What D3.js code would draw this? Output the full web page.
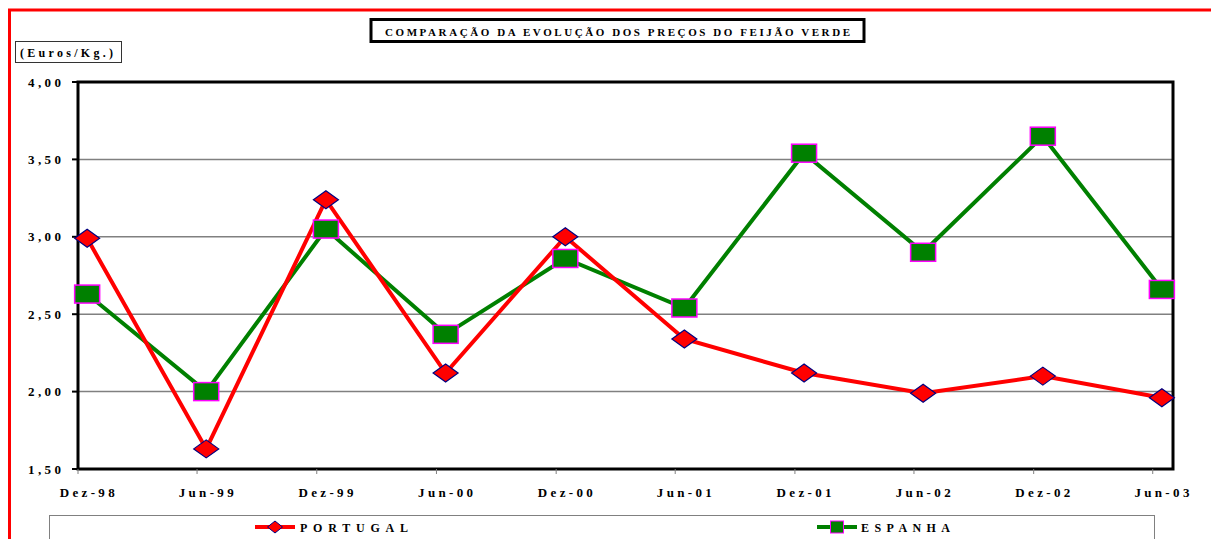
<!DOCTYPE html>
<html>
<head>
<meta charset="utf-8">
<title>Feijão verde</title>
<script src="https://d3js.org/d3.v7.min.js"></script>
<style>
  body { margin: 0; background: #fff; }
  svg { display: block; }
  text { font-family: "Liberation Serif", "Times New Roman", serif; font-weight: bold; fill: #000; }
</style>
</head>
<body>
<script>
// data
const periods = ["1998-12-15", "1999-06-15", "1999-12-15", "2000-06-15", "2000-12-15",
                 "2001-06-15", "2001-12-15", "2002-06-15", "2002-12-15", "2003-06-15"];
const periodLabels = ["Dez-98", "Jun-99", "Dez-99", "Jun-00", "Dez-00",
                      "Jun-01", "Dez-01", "Jun-02", "Dez-02", "Jun-03"];
const portugal = [2.99, 1.63, 3.24, 2.12, 3.00, 2.34, 2.12, 1.99, 2.10, 1.96];
const espanha  = [2.63, 2.00, 3.05, 2.37, 2.86, 2.54, 3.54, 2.90, 3.65, 2.66];
const yTicks = [1.5, 2.0, 2.5, 3.0, 3.5, 4.0];

const W = 1211, H = 539;
const parse = d3.timeParse("%Y-%m-%d");
const dates = periods.map(parse);

const svg = d3.select("body").append("svg").attr("width", W).attr("height", H);

// red outer frame (runs off right and bottom)
svg.append("rect").attr("x", 9.5).attr("y", 10).attr("width", W + 20).attr("height", H + 20)
  .attr("fill", "none").attr("stroke", "#ff0000").attr("stroke-width", 3);

const plot = { left: 78, top: 82, right: 1173, bottom: 469 };

const x = d3.scaleTime()
  .domain([parse("1998-12-01"), parse("2003-07-02")])
  .range([plot.left, plot.right]);
const y = d3.scaleLinear().domain([1.5, 4]).range([plot.bottom, plot.top]);

// helper: spaced text fitted to a width
function spaced(g, str, len) {
  return g.text(str).attr("textLength", len).attr("lengthAdjust", "spacing");
}

// gridlines
svg.append("g").selectAll("line").data(yTicks.filter(d => d > 1.5 && d < 4)).join("line")
  .attr("x1", plot.left).attr("x2", plot.right)
  .attr("y1", d => y(d)).attr("y2", d => y(d))
  .attr("stroke", "#808080").attr("stroke-width", 1.5);

// plot border
svg.append("rect").attr("x", plot.left).attr("y", plot.top)
  .attr("width", plot.right - plot.left).attr("height", plot.bottom - plot.top)
  .attr("fill", "none").attr("stroke", "#000").attr("stroke-width", 3);

// y axis ticks + labels
const fmt = d => d3.format(".2f")(d).replace(".", ",");
const yg = svg.append("g");
yg.selectAll("line").data(yTicks).join("line")
  .attr("x1", plot.left - 6).attr("x2", plot.left)
  .attr("y1", d => y(d)).attr("y2", d => y(d))
  .attr("stroke", "#000").attr("stroke-width", 2);
yg.selectAll("text").data(yTicks).join("text")
  .attr("x", 61).attr("y", d => y(d) + 4.5)
  .attr("text-anchor", "end").attr("font-size", 13)
  .call(t => spaced(t, fmt, 33));

// x axis ticks (1st of month) + labels (at data dates)
const tickDates = d3.timeMonth.range(parse("1998-12-01"), parse("2003-06-02"), 6);
svg.append("g").selectAll("line").data(tickDates).join("line")
  .attr("x1", d => x(d)).attr("x2", d => x(d))
  .attr("y1", plot.bottom).attr("y2", plot.bottom + 5)
  .attr("stroke", "#808080").attr("stroke-width", 1);
svg.append("g").selectAll("text").data(dates).join("text")
  .attr("x", d => x(d)).attr("y", 497)
  .attr("text-anchor", "middle").attr("font-size", 13)
  .each(function(d, i) { spaced(d3.select(this), periodLabels[i], 55); });

// lines
const line = d3.line().x((d, i) => x(dates[i])).y(d => y(d));
svg.append("path").datum(espanha).attr("d", line)
  .attr("fill", "none").attr("stroke", "#008000").attr("stroke-width", 4);
svg.append("path").datum(portugal).attr("d", line)
  .attr("fill", "none").attr("stroke", "#ff0000").attr("stroke-width", 4);

// markers
const diamond = (cx, cy, w, h) => `M${cx - w},${cy}L${cx},${cy - h}L${cx + w},${cy}L${cx},${cy + h}Z`;
svg.append("g").selectAll("rect").data(espanha).join("rect")
  .attr("x", (d, i) => x(dates[i]) - 12.5).attr("y", d => y(d) - 9)
  .attr("width", 25).attr("height", 18)
  .attr("fill", "#008000").attr("stroke", "#ff00ff").attr("stroke-width", 1.5);
svg.append("g").selectAll("path").data(portugal).join("path")
  .attr("d", (d, i) => diamond(x(dates[i]), y(d), 12.5, 9))
  .attr("fill", "#ff0000").attr("stroke", "#000080").attr("stroke-width", 1.2);

// title box
svg.append("rect").attr("x", 371).attr("y", 19.5).attr("width", 493).attr("height", 22)
  .attr("fill", "#fff").attr("stroke", "#000").attr("stroke-width", 3);
svg.append("text").attr("x", 385).attr("y", 35.5).attr("font-size", 11)
  .call(t => spaced(t, "COMPARAÇÃO DA EVOLUÇÃO DOS PREÇOS DO FEIJÃO VERDE", 465));

// unit box
svg.append("rect").attr("x", 15.5).attr("y", 41.5).attr("width", 106).attr("height", 21)
  .attr("fill", "#fff").attr("stroke", "#333").attr("stroke-width", 1);
svg.append("text").attr("x", 20).attr("y", 56.5).attr("font-size", 12)
  .call(t => spaced(t, "(Euros/Kg.)", 93));

// legend
svg.append("rect").attr("x", 49.5).attr("y", 515.5).attr("width", 1105).attr("height", 40)
  .attr("fill", "#fff").attr("stroke", "#808080").attr("stroke-width", 1);
const lg = svg.append("g");
lg.append("line").attr("x1", 255).attr("x2", 295).attr("y1", 527).attr("y2", 527)
  .attr("stroke", "#ff0000").attr("stroke-width", 4);
lg.append("path").attr("d", diamond(275, 527, 7.5, 6))
  .attr("fill", "#ff0000").attr("stroke", "#000080").attr("stroke-width", 1);
lg.append("text").attr("x", 300).attr("y", 531.5).attr("font-size", 12)
  .call(t => spaced(t, "PORTUGAL", 108));
lg.append("line").attr("x1", 817).attr("x2", 857).attr("y1", 527).attr("y2", 527)
  .attr("stroke", "#008000").attr("stroke-width", 4);
lg.append("rect").attr("x", 830.5).attr("y", 521).attr("width", 13).attr("height", 12)
  .attr("fill", "#008000").attr("stroke", "#ff00ff").attr("stroke-width", 1);
lg.append("text").attr("x", 861).attr("y", 531.5).attr("font-size", 12)
  .call(t => spaced(t, "ESPANHA", 89));
</script>
</body>
</html>
